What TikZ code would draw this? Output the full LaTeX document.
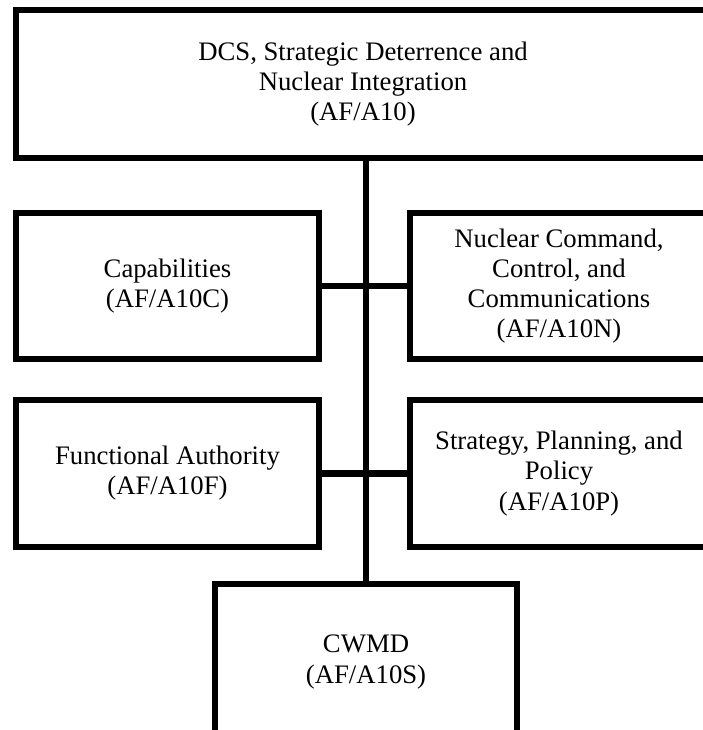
\documentclass[tikz,border=0pt]{standalone}
\usepackage{fontspec}
\setmainfont{Liberation Serif}

\begin{document}
\begin{tikzpicture}[x=0.025cm,y=-0.025cm,line width=4.3pt]

      \useasboundingbox (0,0) rectangle (703,730);
      \clip (0,0) rectangle (703,730);

      \begin{scope}[every node/.style={draw,rectangle,align=center,inner sep=0pt,
          font=\fontsize{19}{21.4}\selectfont}]
        \node[minimum width=17.35cm,minimum height=3.69cm] (a10)  at (363,84)  {DCS, Strategic Deterrence and\\Nuclear Integration\\(AF/A10)};
        \node[minimum width=7.575cm,minimum height=3.65cm] (a10c) at (167.5,286)  {Capabilities\\(AF/A10C)};
        \node[minimum width=7.45cm,minimum height=3.65cm]  (a10n) at (559,286)  {Nuclear Command,\\Control, and\\Communications\\(AF/A10N)};
        \node[minimum width=7.575cm,minimum height=3.675cm] (a10f) at (167.5,473.5)  {Functional Authority\\(AF/A10F)};
        \node[minimum width=7.45cm,minimum height=3.675cm]  (a10p) at (559,473.5)  {Strategy, Planning, and\\Policy\\(AF/A10P)};
        \node[minimum width=7.55cm,minimum height=3.9cm]   (a10s) at (366,662)  {CWMD\\(AF/A10S)};
      \end{scope}

      \draw (a10s.north) -- (a10s.north |- a10.south);
      \draw (a10c.east) -- (a10n.west);
      \draw (a10f.east) -- (a10p.west);

    \end{tikzpicture}
\end{document}
